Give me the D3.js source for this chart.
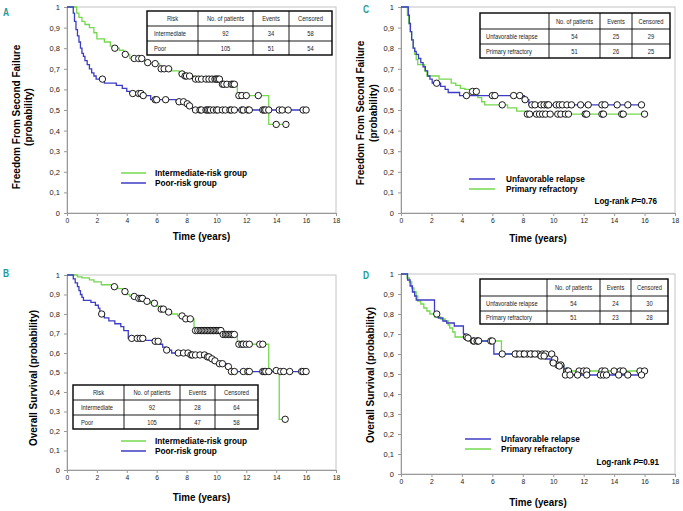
<!DOCTYPE html>
<html><head><meta charset="utf-8">
<script src="https://cdn.jsdelivr.net/npm/d3@7"></script>
<style>body{margin:0;background:#fff;} svg{display:block;font-family:"Liberation Sans",Arial,sans-serif;}</style>
</head><body><svg id="c" width="683" height="511"></svg>
<script>
// ---------- data ----------
const xTicks = [0,2,4,6,8,10,12,14,16,18];
const yTicks = [0,0.1,0.2,0.3,0.4,0.5,0.6,0.7,0.8,0.9,1];

// Panel A: Freedom from second failure by risk
const aIntT = [0.65,0.8,1.0,1.2,1.5,1.8,2.0,2.5,2.9,3.1,3.5,3.8,4.2,5.2,5.7,6.2,7.0,7.5,7.85,8.5,10.3,11.4,13.5];
const aIntS = [0.97,0.95,0.93,0.915,0.9,0.875,0.845,0.83,0.81,0.80,0.79,0.77,0.75,0.73,0.725,0.70,0.69,0.675,0.665,0.65,0.625,0.57,0.43];
const aIntC = [3.2,3.9,4.5,4.8,5.0,5.4,5.9,6.3,6.5,6.8,7.7,7.9,8.0,8.2,8.6,8.8,9.0,9.3,9.5,9.7,9.9,10.0,10.1,10.2,10.4,10.5,10.7,11.0,11.1,11.2,11.5,11.7,12.0,12.8,14.0,14.65];
const aPoorT = [0.42,0.5,0.6,0.7,0.8,0.9,1.0,1.1,1.2,1.35,1.5,1.65,1.8,1.95,2.5,3.3,3.7,4.0,4.2,5.05,5.6,7.3,8.0,8.15,8.3,8.45];
const aPoorS = [0.97,0.93,0.89,0.86,0.83,0.80,0.775,0.76,0.74,0.72,0.70,0.68,0.665,0.65,0.63,0.62,0.605,0.59,0.58,0.57,0.55,0.54,0.53,0.52,0.51,0.50];
const aPoorC = [2.37,4.4,4.8,4.95,5.1,5.9,6.0,6.6,7.5,7.8,8.05,8.2,8.6,8.9,9.0,9.3,9.4,9.5,9.6,9.8,10.0,10.1,10.4,10.6,10.9,11.0,11.2,11.7,11.8,12.1,12.2,13.1,13.2,13.3,13.5,14.2,14.4,14.8,15.8,16.0];

// Panel B: Overall survival by risk
const bIntT = [0.7,1.0,1.5,1.8,2.3,3.0,3.4,3.7,4.0,4.2,4.7,5.2,5.6,6.0,6.15,6.6,7.0,7.4,7.8,8.5,10.35,11.4,13.5,14.2];
const bIntS = [0.99,0.985,0.975,0.965,0.95,0.94,0.93,0.915,0.90,0.89,0.88,0.865,0.855,0.84,0.825,0.81,0.80,0.79,0.775,0.715,0.695,0.645,0.51,0.26];
const bIntC = [3.17,3.88,4.5,4.8,4.95,5.05,5.35,5.85,6.3,6.45,6.8,7.7,7.95,8.25,8.6,8.75,8.9,9.0,9.1,9.2,9.3,9.4,9.5,9.6,9.7,9.8,9.9,10.0,10.1,10.2,10.3,10.45,10.6,10.7,10.8,10.9,11.0,11.1,11.2,11.5,11.7,11.8,12.0,12.2,12.9,13.1,14.0,14.6];
const bPoorT = [0.42,0.55,0.7,0.8,0.9,1.0,1.1,1.6,1.9,2.1,2.2,2.5,2.8,3.2,3.6,3.8,4.1,5.1,5.9,6.2,6.4,6.6,7.0,8.2,9.3,9.6,9.8,10.05,10.7,10.9,11.0];
const bPoorS = [0.98,0.96,0.94,0.92,0.90,0.885,0.87,0.86,0.845,0.83,0.80,0.78,0.765,0.75,0.735,0.715,0.675,0.665,0.66,0.645,0.63,0.615,0.60,0.59,0.58,0.57,0.56,0.545,0.53,0.52,0.505];
const bPoorC = [2.32,4.33,4.7,4.9,5.07,5.9,6.1,6.67,7.45,7.8,8.1,8.3,8.4,8.6,8.9,9.2,9.4,9.5,9.7,9.9,10.2,10.4,10.8,11.0,11.2,11.8,12.1,12.2,13.1,13.2,13.3,13.5,14.3,14.5,14.9,15.7,15.8,16.0];

// Panel C: Freedom from second failure, unfavorable relapse vs primary refractory
const cUnfT = [0.48,0.55,0.62,0.7,0.8,0.9,1.0,1.15,1.3,1.45,1.6,1.75,1.9,2.05,2.6,2.9,3.1,3.85,8.1,8.4];
const cUnfS = [0.96,0.92,0.88,0.84,0.80,0.785,0.77,0.75,0.73,0.71,0.69,0.665,0.65,0.63,0.615,0.60,0.585,0.57,0.55,0.525];
const cUnfC = [2.34,4.3,6.0,6.17,7.4,7.8,8.15,8.6,8.8,9.2,9.4,9.6,9.7,10.2,10.4,10.6,10.9,11.2,11.8,12.3,13.2,13.4,14.2,14.9,15.8];
const cPriT = [0.42,0.5,0.6,0.7,0.8,0.9,1.0,1.1,1.55,1.7,2.5,3.3,3.6,3.9,4.2,4.5,5.05,5.3,5.5,7.0,7.6,8.2];
const cPriS = [0.96,0.92,0.88,0.84,0.80,0.77,0.745,0.72,0.69,0.665,0.65,0.63,0.62,0.605,0.60,0.59,0.56,0.54,0.525,0.51,0.495,0.48];
const cPriC = [4.7,4.95,6.65,8.3,8.45,8.9,9.1,9.3,9.5,9.8,10.3,10.5,10.8,11.0,12.1,12.2,13.2,13.3,14.5,14.6,16.0];

// Panel D: Overall survival, unfavorable relapse vs primary refractory
const dUnfT = [0.43,0.6,0.75,0.9,1.0,2.2,2.45,2.75,3.0,3.5,4.1,4.2,4.6,6.1,9.1,9.5,9.8,10.2,10.7];
const dUnfS = [0.97,0.94,0.91,0.89,0.87,0.80,0.78,0.765,0.755,0.74,0.70,0.68,0.665,0.60,0.59,0.575,0.555,0.54,0.495];
const dUnfC = [2.35,4.4,4.8,5.0,5.1,7.5,7.8,8.1,8.5,8.8,9.2,9.4,10.0,10.4,10.8,11.1,11.6,12.2,13.1,13.3,13.5,14.3,14.9,15.8];
const dPriT = [0.4,0.55,0.7,0.85,1.0,1.1,1.3,1.5,1.7,1.9,2.2,2.6,2.9,3.1,3.2,3.4,3.55,4.4,6.6,10.0,10.2,10.7];
const dPriS = [0.98,0.96,0.93,0.91,0.89,0.865,0.85,0.83,0.815,0.80,0.785,0.775,0.765,0.745,0.73,0.71,0.685,0.665,0.60,0.575,0.545,0.515];
const dPriC = [4.3,4.75,5.05,5.9,6.0,6.65,7.6,8.0,8.3,8.6,9.0,9.3,9.5,9.9,10.1,10.3,10.5,10.9,11.0,11.7,12.0,12.2,13.2,13.4,14.0,14.4,14.6,15.7,16.0];

// tables
const riskHeader = ["Risk","No. of patients","Events","Censored"];
const tableARows = [["Intermediate","92","34","58"],["Poor","105","51","54"]];
const tableBRows = [["Intermediate","92","28","64"],["Poor","105","47","58"]];
const groupHeader = ["","No. of patients","Events","Censored"];
const tableCRows = [["Unfavorable relapse","54","25","29"],["Primary refractory","51","26","25"]];
const tableDRows = [["Unfavorable relapse","54","24","30"],["Primary refractory","51","23","28"]];

const legendRisk = ["Intermediate-risk group","Poor-risk group"];
const legendGroup = ["Unfavorable relapse","Primary refractory"];
const pValueC = "0.76", pValueD = "0.91";

// ---------- drawing ----------
const GREEN = "#74d84e", BLUE = "#3c3cc6", TEAL = "#1f9a96";
const svg = d3.select("#c");

function txt(g, x, y, s, o = {}) {
  const sx = o.sx ?? 0.85;
  return g.append("text")
    .attr("transform", `translate(${x},${y})${o.rot ? " rotate(-90)" : ""} scale(${sx},1)`)
    .attr("text-anchor", o.anchor || "start")
    .attr("dominant-baseline", "central")
    .attr("font-size", o.size || 10)
    .attr("font-weight", o.bold ? "bold" : "normal")
    .attr("fill", o.fill || "#000")
    .text(s);
}

function stepFn(T, S) {
  return t => { let v = 1; for (let i = 0; i < T.length; i++) if (T[i] <= t) v = S[i]; return v; };
}

function drawPanel(p) {
  const g = svg.append("g");
  const x = d3.scaleLinear().domain([0, 18]).range([p.l, p.r]);
  const y = d3.scaleLinear().domain([0, 1]).range([p.b, p.t]);
  g.append("rect").attr("x", p.l).attr("y", p.t).attr("width", p.r - p.l).attr("height", p.b - p.t)
    .attr("fill", "none").attr("stroke", "#c4c4c4").attr("stroke-width", 1);
  const fmtY = d => d === 0 ? "0" : d === 1 ? "1" : d.toFixed(1).replace(".", ",");
  const ax = g.append("g").attr("transform", `translate(0,${p.b})`)
    .call(d3.axisBottom(x).tickValues(xTicks).tickSize(3).tickPadding(2).tickFormat(d3.format("d")));
  const ay = g.append("g").attr("transform", `translate(${p.l},0)`)
    .call(d3.axisLeft(y).tickValues(yTicks).tickSize(3).tickPadding(4).tickFormat(fmtY));
  [ax, ay].forEach(a => {
    a.select(".domain").attr("stroke", "#999");
    a.selectAll(".tick line").attr("stroke", "#999");
    a.selectAll("text").attr("font-size", 7.5).attr("fill", "#222")
      .attr("font-family", '"Liberation Sans",Arial,sans-serif');
  });
  ax.selectAll("text").attr("transform", "scale(0.9,1)");

  const line = d3.line().x(d => x(d[0])).y(d => y(d[1])).curve(d3.curveStepAfter);
  p.curves.forEach(c => {
    const end = Math.max(d3.max(c.T), d3.max(c.C));
    const pts = [[0, 1]].concat(c.T.map((t, i) => [t, c.S[i]]));
    pts.push([end, c.S[c.S.length - 1]]);
    g.append("path").attr("d", line(pts)).attr("fill", "none").attr("stroke", c.color).attr("stroke-width", 1.3);
  });
  p.curves.forEach(c => {
    const f = stepFn(c.T, c.S);
    g.selectAll(null).data(c.C).join("circle")
      .attr("cx", d => x(d)).attr("cy", d => y(f(d))).attr("r", 3.2)
      .attr("fill", "#fff").attr("stroke", "#000").attr("stroke-width", 0.9);
  });

  // table
  const t = p.table;
  const tg = g.append("g");
  tg.append("rect").attr("x", t.cols[0]).attr("y", t.rows[0]).attr("width", t.cols[4] - t.cols[0])
    .attr("height", t.rows[3] - t.rows[0]).attr("fill", "#fff").attr("stroke", "#000").attr("stroke-width", 1.4);
  [1, 2, 3].forEach(i => tg.append("line").attr("x1", t.cols[i]).attr("x2", t.cols[i])
    .attr("y1", t.rows[0]).attr("y2", t.rows[3]).attr("stroke", "#000").attr("stroke-width", 0.9));
  [1, 2].forEach(i => tg.append("line").attr("x1", t.cols[0]).attr("x2", t.cols[4])
    .attr("y1", t.rows[i]).attr("y2", t.rows[i]).attr("stroke", "#000").attr("stroke-width", 0.9));
  const allRows = [t.header].concat(t.data);
  allRows.forEach((r, ri) => {
    const cy = (t.rows[ri] + t.rows[ri + 1]) / 2;
    r.forEach((s, ci) => {
      if (!s) return;
      if (ci === 0 && ri > 0) txt(tg, t.cols[0] + t.pad, cy, s, { size: 6.8, fill: "#222" });
      else txt(tg, (t.cols[ci] + t.cols[ci + 1]) / 2, cy, s, { size: 6.8, fill: "#222", anchor: "middle" });
    });
  });

  // legend
  p.legend.forEach((l, i) => {
    const ly = p.leg.y + i * 10;
    g.append("line").attr("x1", p.leg.x1).attr("x2", p.leg.x2).attr("y1", ly).attr("y2", ly)
      .attr("stroke", l.color).attr("stroke-width", 1.5);
    txt(g, p.leg.tx, ly, l.label, { size: 9.7, bold: true });
  });

  // p value
  if (p.pv) {
    const tt = g.append("text").attr("transform", `translate(${p.pv.x},${p.pv.y}) scale(0.85,1)`)
      .attr("text-anchor", "end").attr("dominant-baseline", "central")
      .attr("font-size", 9.5).attr("font-weight", "bold");
    tt.append("tspan").text("Log-rank ");
    tt.append("tspan").attr("font-style", "italic").text("P");
    tt.append("tspan").text("=" + p.pv.val);
  }

  // titles
  txt(g, (p.l + p.r) / 2, p.xt, "Time (years)", { size: 11.5, bold: true, anchor: "middle" });
  p.yt.forEach(yt => txt(g, yt.x, yt.y, yt.s, { size: 10, bold: true, anchor: "middle", rot: true, sx: 1 }));
  txt(g, p.lab.x, p.lab.y, p.key, { size: 10.5, bold: true, fill: TEAL, sx: 0.8 });
}

const panels = [
  { key: "A", l: 67, r: 336, t: 7, b: 213, xt: 236,
    curves: [{ T: aIntT, S: aIntS, C: aIntC, color: GREEN }, { T: aPoorT, S: aPoorS, C: aPoorC, color: BLUE }],
    table: { cols: [147, 198, 253, 289, 332], rows: [11, 26, 41, 55], pad: 7, header: riskHeader, data: tableARows },
    legend: [{ label: legendRisk[0], color: GREEN }, { label: legendRisk[1], color: BLUE }],
    leg: { x1: 121, x2: 146, y: 173, tx: 155 },
    yt: [{ x: 16, y: 117, s: "Freedom From Second Failure" }, { x: 28, y: 117, s: "(probability)" }],
    lab: { x: 3, y: 12 } },
  { key: "B", l: 67, r: 336, t: 275, b: 470, xt: 497,
    curves: [{ T: bIntT, S: bIntS, C: bIntC, color: GREEN }, { T: bPoorT, S: bPoorS, C: bPoorC, color: BLUE }],
    table: { cols: [73, 124, 180, 215, 258], rows: [385, 400, 415, 429], pad: 8, header: riskHeader, data: tableBRows },
    legend: [{ label: legendRisk[0], color: GREEN }, { label: legendRisk[1], color: BLUE }],
    leg: { x1: 121, x2: 146, y: 441, tx: 155 },
    yt: [{ x: 33.5, y: 378, s: "Overall Survival (probability)" }],
    lab: { x: 3, y: 273 } },
  { key: "C", l: 401, r: 675, t: 7, b: 213, xt: 238,
    curves: [{ T: cPriT, S: cPriS, C: cPriC, color: GREEN }, { T: cUnfT, S: cUnfS, C: cUnfC, color: BLUE }],
    table: { cols: [480, 549, 600, 632, 670], rows: [13, 29, 44, 58], pad: 6, header: groupHeader, data: tableCRows },
    legend: [{ label: legendGroup[0], color: BLUE }, { label: legendGroup[1], color: GREEN }],
    leg: { x1: 469, x2: 495, y: 179, tx: 506 },
    pv: { x: 657, y: 201, val: pValueC },
    yt: [{ x: 360, y: 113, s: "Freedom From Second Failure" }, { x: 373, y: 113, s: "(probability)" }],
    lab: { x: 363, y: 9 } },
  { key: "D", l: 401, r: 675, t: 274, b: 474, xt: 502,
    curves: [{ T: dPriT, S: dPriS, C: dPriC, color: GREEN }, { T: dUnfT, S: dUnfS, C: dUnfC, color: BLUE }],
    table: { cols: [480, 547, 600, 631, 668], rows: [279, 296, 311, 324], pad: 6, header: groupHeader, data: tableDRows },
    legend: [{ label: legendGroup[0], color: BLUE }, { label: legendGroup[1], color: GREEN }],
    leg: { x1: 465, x2: 491, y: 439, tx: 501 },
    pv: { x: 659, y: 462, val: pValueD },
    yt: [{ x: 370, y: 375, s: "Overall Survival (probability)" }],
    lab: { x: 363, y: 275 } }
];
panels.forEach(drawPanel);
</script></body></html>
